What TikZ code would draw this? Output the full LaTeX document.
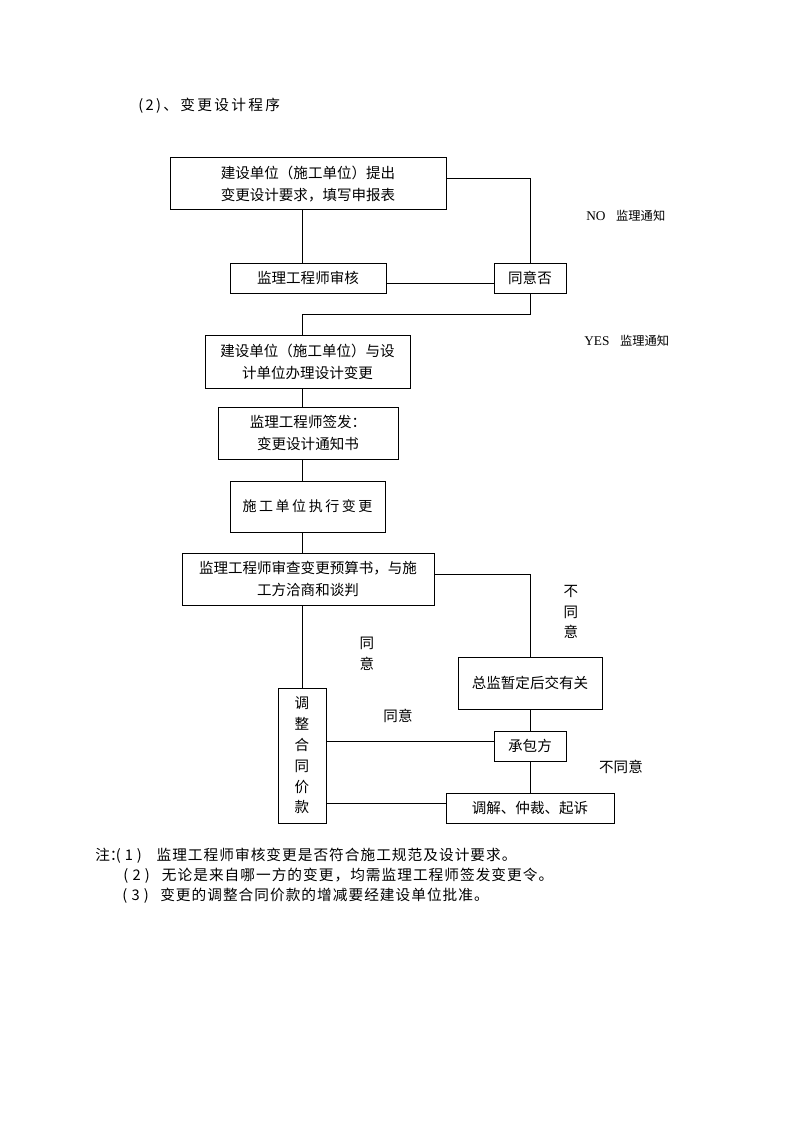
\documentclass[tikz,border=0pt]{standalone}
\usepackage{fontspec}
\setmainfont{Noto Sans CJK SC}
\newfontfamily\cjkwide[LetterSpace=18]{Noto Sans CJK SC}
\newfontfamily\cjktitle[LetterSpace=16]{Noto Sans CJK SC}
\newfontfamily\cjknote[LetterSpace=7]{Noto Sans CJK SC}
\newfontfamily\lat{Liberation Serif}
\begin{document}
\begin{tikzpicture}[x=0.75pt,y=-0.75pt,
  box/.style={draw, line width=0.75pt, inner sep=0pt, align=center, font=\fontsize{10.9}{16.5}\selectfont},
  lbl/.style={inner sep=0pt, align=center, font=\fontsize{10.9}{15.6}\selectfont},
  note/.style={inner sep=0pt, anchor=west, font=\fontsize{11}{15}\cjknote},
  small/.style={inner sep=0pt, anchor=west, font=\fontsize{9.2}{11}\selectfont},
  ln/.style={line width=0.75pt}]
\fill[white] (0,0) rectangle (794,1123);
\useasboundingbox (0,0) rectangle (794,1123);

\node[inner sep=0pt, anchor=west, font=\fontsize{11}{15}\cjktitle] (title) at (138,106) {(2)、变更设计程序};

\node[box, minimum width=207pt, minimum height=39pt] (b1) at (308,184) {建设单位（施工单位）提出\\变更设计要求，填写申报表};
\node[box, minimum width=117pt, minimum height=22.5pt] (b2) at (308,278) {监理工程师审核};
\node[box, minimum width=54pt, minimum height=22.5pt] (q) at (530,278) {同意否};
\node[box, minimum width=153.75pt, minimum height=39.75pt] (b3) at (307.5,361.5) {建设单位（施工单位）与设\\计单位办理设计变更};
\node[box, minimum width=135pt, minimum height=39pt] (b4) at (308,433) {监理工程师签发：\\变更设计通知书};
\node[box, minimum width=116.25pt, minimum height=38.25pt, font=\fontsize{10.5}{16.5}\cjkwide] (b5) at (307.5,506.5) {施工单位执行变更};
\node[box, minimum width=189pt, minimum height=39pt] (b6) at (308,579) {监理工程师审查变更预算书，与施\\工方洽商和谈判};
\node[box, minimum width=108pt, minimum height=39pt] (b7) at (530,683) {总监暂定后交有关};
\node[box, minimum width=54pt, minimum height=22.5pt] (b8) at (530,746) {承包方};
\node[box, minimum width=126pt, minimum height=22.5pt] (b9) at (530,808) {调解、仲裁、起诉};
\node[box, minimum width=36pt, minimum height=101.25pt, font=\fontsize{10.9}{15.6}\selectfont] (b10) at (302,755.5) {调\\整\\合\\同\\价\\款};

\coordinate (col) at (302,0);
\coordinate (r179) at (0,179);
\coordinate (r283) at (0,283);
\coordinate (r314) at (0,314);
\coordinate (r574) at (0,574);
\coordinate (r741) at (0,741);
\coordinate (r803) at (0,803);

\draw[ln] (b1.south -| col) -- (b2.north -| col);
\draw[ln] (b2.east |- r283) -- (q.west |- r283);
\draw[ln] (b1.east |- r179) -| (q.north);
\draw[ln] (q.south) |- (r314 -| col) -- (b3.north -| col);
\draw[ln] (b3.south -| col) -- (b4.north -| col);
\draw[ln] (b4.south -| col) -- (b5.north -| col);
\draw[ln] (b5.south -| col) -- (b6.north -| col);
\draw[ln] (b6.east |- r574) -| (b7.north);
\draw[ln] (b6.south -| col) -- (b10.north);
\draw[ln] (b7.south) -- (b8.north);
\draw[ln] (b8.south) -- (b9.north);
\draw[ln] (b10.east |- r741) -- (b8.west |- r741);
\draw[ln] (b10.east |- r803) -- (b9.west |- r803);

\node[small] (no) at (586,216) {{\lat\fontsize{10}{12}\selectfont NO}\hspace{8pt}监理通知};
\node[small] (yes) at (584,341) {{\lat\fontsize{10}{12}\selectfont YES}\hspace{8pt}监理通知};
\node[lbl] (nd1) at (571,612) {不\\同\\意};
\node[lbl] (ag1) at (367,653.5) {同\\意};
\node[lbl] (ag2) at (398,716) {同意};
\node[lbl] (nd2) at (621,767) {不同意};

\node[note] (n1) at (95,856) {注\makebox[4.5pt][l]{：}\makebox[19.5pt][s]{(\hfil1\hfil)}\hspace{11pt}监理工程师审核变更是否符合施工规范及设计要求。};
\node[note] (n2) at (123,876) {\makebox[20pt][s]{(\hfil2\hfil)}\hspace{9pt}无论是来自哪一方的变更，均需监理工程师签发变更令。};
\node[note] (n3) at (122,896) {\makebox[20pt][s]{(\hfil3\hfil)}\hspace{8.5pt}变更的调整合同价款的增减要经建设单位批准。};
\end{tikzpicture}
\end{document}
